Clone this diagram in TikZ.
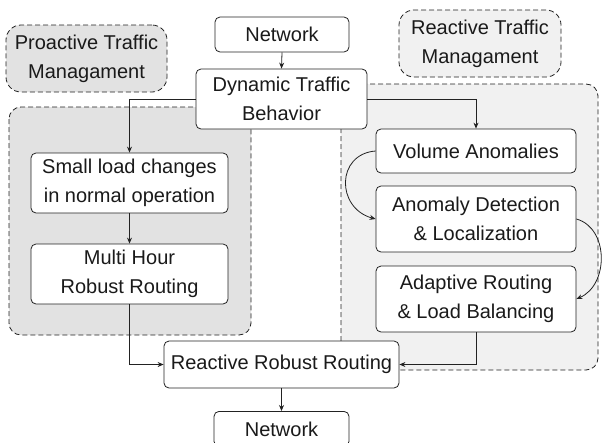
\documentclass[tikz,border=0pt]{standalone}
\usepackage{fontspec}
\setmainfont{Liberation Sans}
\usetikzlibrary{arrows.meta}
\definecolor{txt}{HTML}{1A1A1A}
\definecolor{edge}{HTML}{222222}
\definecolor{leftfill}{HTML}{E2E2E2}
\definecolor{rightfill}{HTML}{F1F1F1}
\tikzset{
  box/.style={draw=edge, fill=white, rounded corners=5pt, line width=0.8pt, inner sep=0pt,
    align=center, text=txt, font=\fontsize{20}{29}\selectfont},
  region/.style={draw=edge, dash pattern=on 5pt off 3pt, line width=0.8pt, rounded corners=12pt},
  tag/.style={draw=edge, dash pattern=on 5pt off 3pt, line width=0.8pt, rounded corners=15pt,
    inner sep=0pt, align=center, text=txt, font=\fontsize{20}{29}\selectfont},
  arr/.style={draw=edge, line width=0.8pt, -{Stealth[length=6pt,width=5pt]}},
}
\begin{document}
\begin{tikzpicture}[x=1pt,y=-1pt]
\clip (0,0) rectangle (602,442);
\fill[white] (0,0) rectangle (602,442);
% regions
\draw[region, fill=leftfill] (9,107) rectangle (251,335);
\draw[region, fill=rightfill] (341,84) rectangle (598,370);
% label boxes
\node[tag, fill=leftfill, minimum width=161pt, minimum height=67pt] (pro) at (86.5,58.5) {Proactive Traffic\\Managament};
\node[tag, fill=rightfill, minimum width=162pt, minimum height=67pt] (rea) at (480,43.5) {Reactive Traffic\\Managament};
% nodes
\node[box, minimum width=134pt, minimum height=35pt] (net1) at (282,34.5) {Network};
\node[box, minimum width=171pt, minimum height=60pt] (dyn) at (281.5,99) {Dynamic Traffic\\Behavior};
\node[box, minimum width=197pt, minimum height=60pt] (small) at (129.5,183) {Small load changes\\in normal operation};
\node[box, minimum width=197pt, minimum height=60pt] (multi) at (129.5,274) {Multi Hour\\Robust Routing};
\node[box, minimum width=200pt, minimum height=44pt] (vol) at (476,151) {Volume Anomalies};
\node[box, minimum width=200pt, minimum height=66pt] (anom) at (476,219) {Anomaly Detection\\\& Localization};
\node[box, minimum width=200pt, minimum height=66pt] (adapt) at (476,299) {Adaptive Routing\\\& Load Balancing};
\node[box, minimum width=235pt, minimum height=47pt] (rrr) at (281.5,364.5) {Reactive Robust Routing};
\node[box, minimum width=135pt, minimum height=35pt, anchor=north] (net2) at (281.5,411) {Network};
% connectors
\draw[arr] (net1.south) -- (dyn.north);
\draw[arr] (dyn.west) -| (small.north);
\draw[arr] (dyn.east) -| (vol.north);
\draw[arr] (small.south) -- (multi.north);
\draw[arr] (multi.south) |- (rrr.west);
\draw[arr] (adapt.south) |- (rrr.east);
\draw[arr] (rrr.south) -- (net2.north);
\draw[arr] (vol.west) .. controls (336,154) and (336,208) .. (anom.west);
\draw[arr] (anom.east) .. controls (609,228) and (609,285) .. (adapt.east);
\end{tikzpicture}
\end{document}
